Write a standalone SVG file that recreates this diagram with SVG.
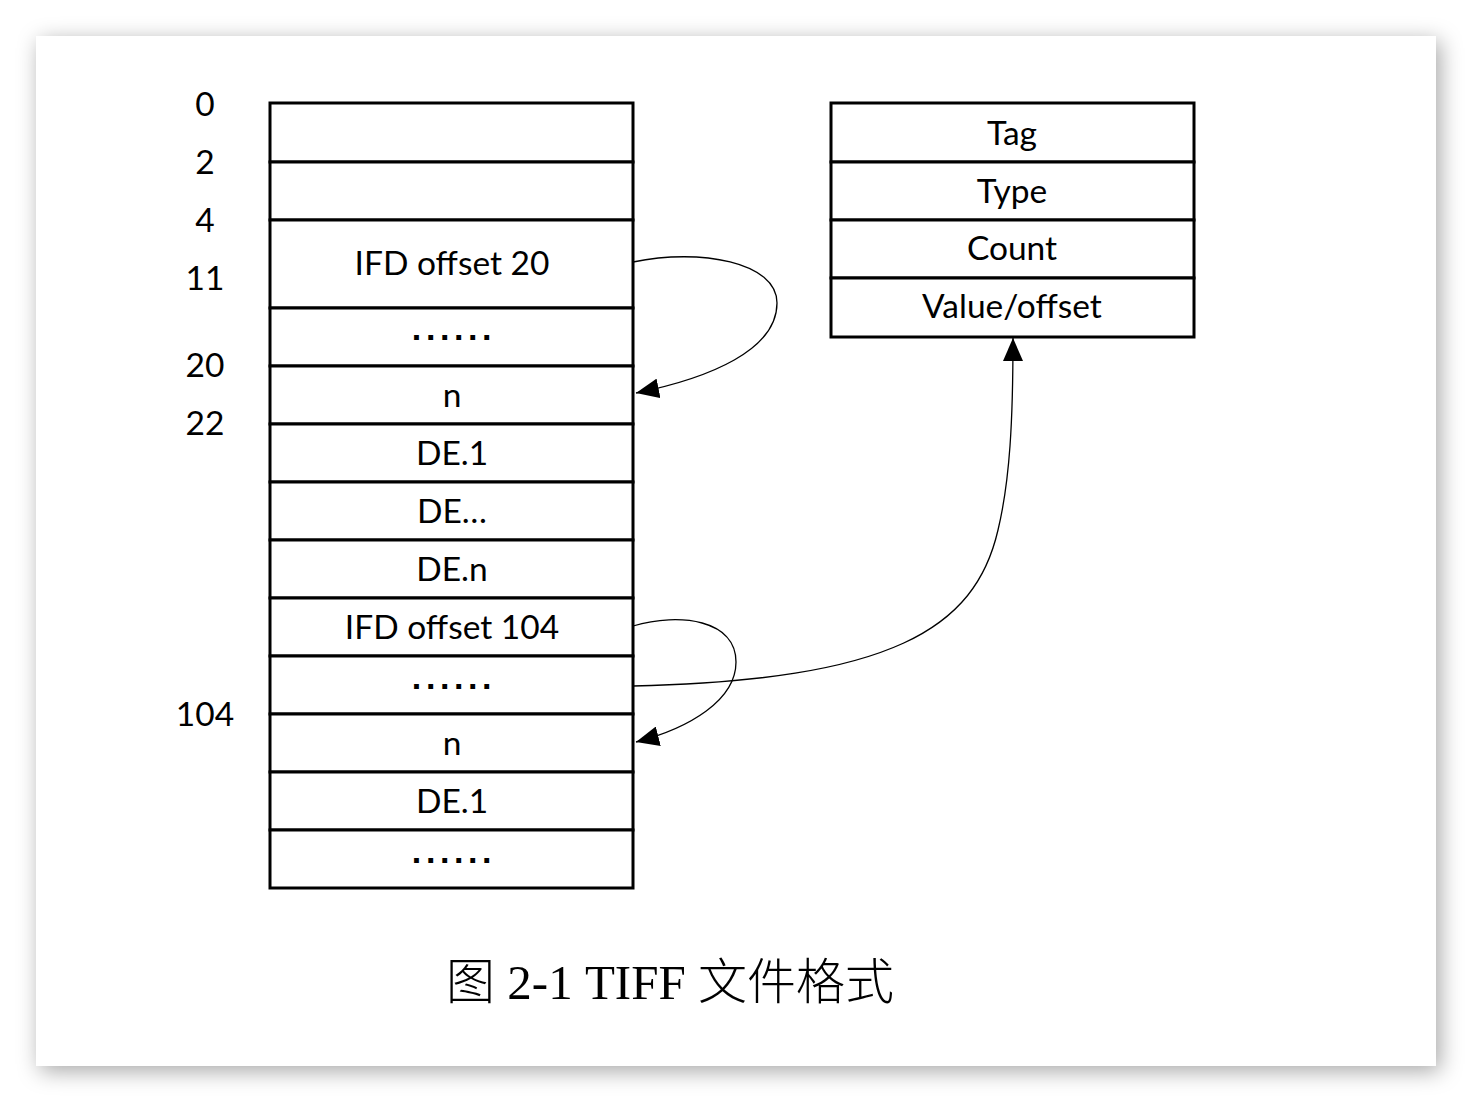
<svg xmlns="http://www.w3.org/2000/svg" width="1472" height="1102" viewBox="0 0 1472 1102">
<defs>
<filter id="sh" x="-10%" y="-10%" width="120%" height="120%">
<feDropShadow dx="4" dy="5" stdDeviation="11" flood-color="#000" flood-opacity="0.35"/>
</filter>
<marker id="ah" markerUnits="userSpaceOnUse" markerWidth="24" markerHeight="20" viewBox="0 0 24 20" refX="23" refY="10" orient="auto">
<path d="M0,0 L23,10 L0,20 Z" fill="#000"/>
</marker>
<style>
.cell{fill:#fff;stroke:#000;stroke-width:3}
.t{font-family:Lato,"Liberation Sans",sans-serif;font-size:33.5px;fill:#000;text-anchor:middle}
.d{font-family:"Liberation Sans",sans-serif;font-size:34px;font-weight:bold;fill:#000;text-anchor:middle;letter-spacing:4.6px}
.c{fill:none;stroke:#000;stroke-width:1.3}
</style>
</defs>
<rect x="0" y="0" width="1472" height="1102" fill="#fff"/>
<rect x="36" y="36" width="1400" height="1030" fill="#fff" filter="url(#sh)"/>
<g id="offsets">
<text class="t" x="205" y="116">0</text>
<text class="t" x="205" y="174">2</text>
<text class="t" x="205" y="232">4</text>
<text class="t" x="205" y="290">11</text>
<text class="t" x="205" y="377">20</text>
<text class="t" x="205" y="435">22</text>
<text class="t" x="205" y="726">104</text>
</g>
<g id="file">
<rect class="cell" x="270" y="103" width="363" height="59"/>
<rect class="cell" x="270" y="162" width="363" height="58"/>
<rect class="cell" x="270" y="220" width="363" height="88"/>
<rect class="cell" x="270" y="308" width="363" height="58"/>
<rect class="cell" x="270" y="366" width="363" height="58"/>
<rect class="cell" x="270" y="424" width="363" height="58"/>
<rect class="cell" x="270" y="482" width="363" height="58"/>
<rect class="cell" x="270" y="540" width="363" height="58"/>
<rect class="cell" x="270" y="598" width="363" height="58"/>
<rect class="cell" x="270" y="656" width="363" height="58"/>
<rect class="cell" x="270" y="714" width="363" height="58"/>
<rect class="cell" x="270" y="772" width="363" height="58"/>
<rect class="cell" x="270" y="830" width="363" height="58"/>
<text class="t" x="452" y="275">IFD offset 20</text>
<text class="d" x="454" y="340">......</text>
<text class="t" x="452" y="407">n</text>
<text class="t" x="452" y="465">DE.1</text>
<text class="t" x="452" y="523">DE…</text>
<text class="t" x="452" y="581">DE.n</text>
<text class="t" x="452" y="639">IFD offset 104</text>
<text class="d" x="454" y="689">......</text>
<text class="t" x="452" y="755">n</text>
<text class="t" x="452" y="813">DE.1</text>
<text class="d" x="454" y="863">......</text>
</g>
<g id="entry">
<rect class="cell" x="831" y="103" width="363" height="59"/>
<rect class="cell" x="831" y="162" width="363" height="58"/>
<rect class="cell" x="831" y="220" width="363" height="58"/>
<rect class="cell" x="831" y="278" width="363" height="59"/>
<text class="t" x="1012" y="145">Tag</text>
<text class="t" x="1012" y="203">Type</text>
<text class="t" x="1012" y="260">Count</text>
<text class="t" x="1012" y="318">Value/offset</text>
</g>
<g id="connectors">
<path class="c" d="M633,262 C700,248 777,262 777,303 C777,350 710,378 636,393" marker-end="url(#ah)"/>
<path class="c" d="M633,626 C680,612 736,620 736,662 C736,700 690,728 636,742" marker-end="url(#ah)"/>
<path class="c" d="M633,686 C890,680 975,630 998,530 C1010,480 1013,420 1013,338" marker-end="url(#ah)"/>
</g>
<g id="caption">
<text x="670" y="999" text-anchor="middle" font-family="'Liberation Serif','Noto Sans CJK SC',serif" font-size="49" font-weight="300" fill="#000">图 2-1 TIFF 文件格式</text>
</g>
</svg>
